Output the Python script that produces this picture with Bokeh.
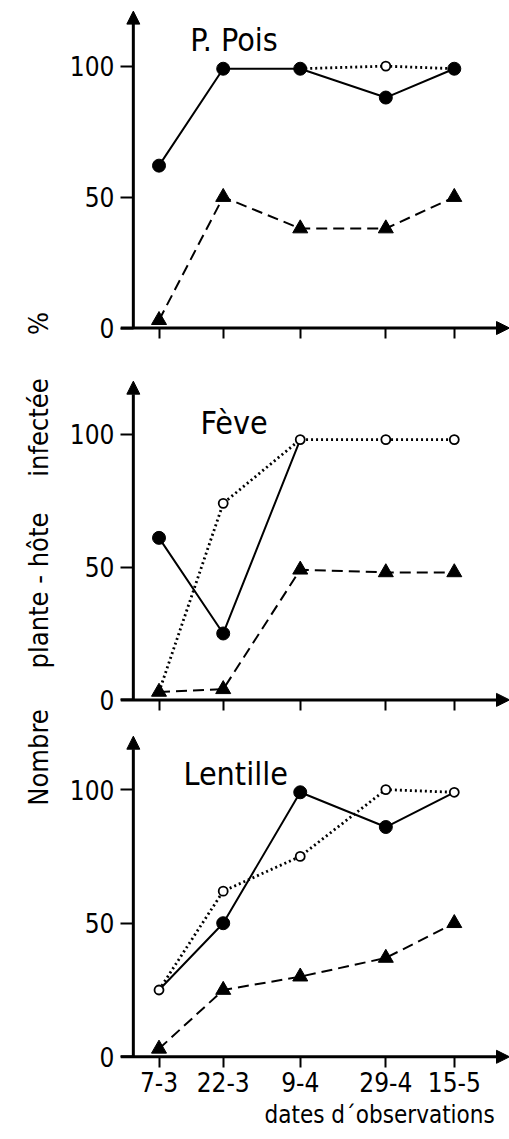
import math
import datetime
from bokeh.plotting import figure
from bokeh.models import Arrow, NormalHead, Label, FixedTicker, Title
from bokeh.layouts import row, column
from bokeh.embed import file_html
from bokeh.resources import INLINE

NAN = float("nan")

# ---- data ----
dates = ["7-3", "22-3", "9-4", "29-4", "15-5"]
panel_titles = ["P. Pois", "Fève", "Lentille"]
y_ticks = [0, 50, 100]

pois_solid = [62, 99, 99, 88, 99]
pois_solid_marks = [1, 1, 1, 1, 1]
pois_dotted = [NAN, NAN, 99, 100, 99]
pois_dotted_marks = [0, 0, 0, 1, 0]
pois_dashed = [3, 50, 38, 38, 50]

feve_solid = [61, 25, 98, NAN, NAN]
feve_solid_marks = [1, 1, 0, 0, 0]
feve_dotted = [3, 74, 98, 98, 98]
feve_dotted_marks = [0, 1, 1, 1, 1]
feve_dashed = [3, 4, 49, 48, 48]

lent_solid = [25, 50, 99, 86, 99]
lent_solid_marks = [0, 1, 1, 1, 0]
lent_dotted = [25, 62, 75, 100, 99]
lent_dotted_marks = [1, 1, 1, 1, 1]
lent_dashed = [3, 25, 30, 37, 50]

y_label_parts = ["Nombre", "plante - hôte", "infectée", "%"]
x_label = "dates d\u00b4observations"

# x positions: day of year of each observation date
def day_of_year(s):
    d, m = (int(v) for v in s.split("-"))
    return datetime.date(1983, m, d).timetuple().tm_yday

days = [day_of_year(s) for s in dates]

FONT = "DejaVu Sans Condensed"
X_FRAME0, X_AXIS, X_END = 57, 60, 147.9


def masked(vals, marks):
    return [v if m else NAN for v, m in zip(vals, marks)]


def arrow(x0, y0, x1, y1):
    return Arrow(end=NormalHead(size=13, fill_color="black", line_color="black"),
                 x_start=x0, y_start=y0, x_end=x1, y_end=y1,
                 line_width=3, line_color="black")


def make_panel(title, solid, solid_marks, dotted, dotted_marks, dashed,
               y_end, frame_h, b_top, b_bottom, title_xy):
    p = figure(frame_width=389, frame_height=frame_h,
               x_range=(X_FRAME0, X_END), y_range=(-4, y_end),
               min_border_left=62, min_border_right=0,
               min_border_top=b_top, min_border_bottom=b_bottom,
               toolbar_location=None, output_backend="svg",
               background_fill_color="white", border_fill_color="white")
    p.outline_line_color = None
    p.grid.visible = False

    # y axis: ticks drawn inward from the frame edge up to the axis arrow
    p.yaxis.ticker = FixedTicker(ticks=y_ticks)
    p.yaxis.axis_line_color = None
    p.yaxis.major_tick_out = 0
    p.yaxis.major_tick_in = 13
    p.yaxis.major_tick_line_width = 2
    p.yaxis.minor_tick_line_color = None
    p.yaxis.major_label_standoff = 6
    p.yaxis.major_label_text_font = FONT
    p.yaxis.major_label_text_font_size = "26px"
    p.yaxis.major_label_text_color = "black"

    # x axis ticks drawn up from frame bottom to the zero line
    p.xaxis.ticker = FixedTicker(ticks=days)
    p.xaxis.axis_line_color = None
    p.xaxis.major_tick_in = 10
    p.xaxis.major_tick_out = 0
    p.xaxis.major_tick_line_width = 2
    p.xaxis.minor_tick_line_color = None
    p.xaxis.major_label_text_font = FONT
    p.xaxis.major_label_text_color = "black"

    # axis lines with arrow heads
    p.add_layout(arrow(X_AXIS, 0, X_AXIS, y_end - 1))
    p.add_layout(arrow(X_FRAME0, 0, X_END, 0))

    # lines
    p.line(days, dashed, line_color="black", line_width=2, line_dash="11 6")
    p.line(days, dotted, line_color="black", line_width=2.8, line_dash="2 3")
    p.line(days, solid, line_color="black", line_width=2)
    # markers
    p.scatter(days, dashed, marker="triangle", size=15,
              fill_color="black", line_color="black")
    p.scatter(days, masked(solid, solid_marks), marker="circle", size=13,
              fill_color="black", line_color="black")
    p.scatter(days, masked(dotted, dotted_marks), marker="circle", size=9,
              fill_color="white", line_color="black", line_width=1.8)

    p.add_layout(Label(x=title_xy[0], y=title_xy[1], text=title,
                       text_font=FONT, text_font_size="32px",
                       text_color="black", text_baseline="alphabetic"))
    return p


p1 = make_panel(panel_titles[0], pois_solid, pois_solid_marks, pois_dotted,
                pois_dotted_marks, pois_dashed, 122, 330, 8, 32, (73.3, 109.8))
p2 = make_panel(panel_titles[1], feve_solid, feve_solid_marks, feve_dotted,
                feve_dotted_marks, feve_dashed, 121, 332, 8, 18, (75.7, 104.4))
p3 = make_panel(panel_titles[2], lent_solid, lent_solid_marks, lent_dotted,
                lent_dotted_marks, lent_dashed, 121, 334, 5, 72, (71.7, 105.7))

for p in (p1, p2):
    p.xaxis.major_label_overrides = {d: "" for d in days}
    p.xaxis.major_label_text_font_size = "1px"

p3.xaxis.major_label_overrides = {d: s for d, s in zip(days, dates)}
p3.xaxis.major_label_text_font_size = "26px"
p3.xaxis.major_label_standoff = 4
p3.add_layout(Title(text=x_label, align="left", offset=144, standoff=9,
                    vertical_align="bottom",
                    text_font=FONT, text_font_size="24px",
                    text_font_style="normal", text_color="black"), "below")

# left strip with the rotated y label
lab = figure(width=58, height=1139, x_range=(0, 58), y_range=(0, 1139),
             x_axis_type=None, y_axis_type=None, min_border=0,
             toolbar_location=None, output_backend="svg",
             border_fill_color="white", background_fill_color="white")
lab.outline_line_color = None
lab.grid.visible = False
for txt, yc in zip(y_label_parts, [382, 549, 712, 816]):
    lab.add_layout(Label(x=38, y=yc, text=txt, angle=math.pi / 2,
                         text_font=FONT, text_font_size="27px",
                         text_color="black", text_align="center",
                         text_baseline="middle"))

layout = row(lab, column(p1, p2, p3))
open("out.html", "w").write(file_html(layout, INLINE))
